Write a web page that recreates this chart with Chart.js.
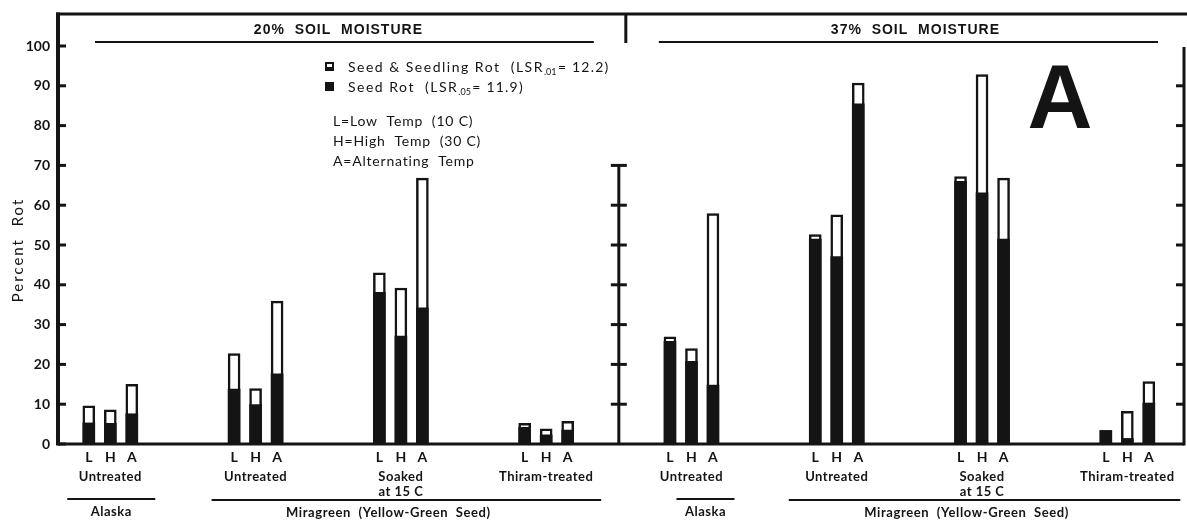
<!DOCTYPE html>
<html>
<head>
<meta charset="utf-8">
<script src="https://cdn.jsdelivr.net/npm/chart.js@4.4.0/dist/chart.umd.min.js"></script>
<style>
  html, body { margin: 0; padding: 0; background: #fff; }
  #wrap { width: 1187px; height: 523px; }
</style>
</head>
<body>
<div id="wrap"><canvas id="rotChart" width="1187" height="523"></canvas></div>
<script>
/* ── Data ─────────────────────────────────────────── */

const panelTitles = ['20%  SOIL  MOISTURE', '37%  SOIL  MOISTURE'];
const groupLabels = [['Untreated'], ['Untreated'], ['Soaked', 'at 15 C'], ['Thiram-treated']];
const tempLabels  = ['L', 'H', 'A'];
const cultivars   = ['Alaska', 'Miragreen  (Yellow-Green  Seed)'];
const yTicks      = [0, 10, 20, 30, 40, 50, 60, 70, 80, 90, 100];

// percent rot, L/H/A for each of the 4 treatment groups
const totalRot20 = [9.6, 8.6, 15.0,  22.7, 13.9, 35.9,  43.0, 39.2, 66.8,  5.2, 3.8, 5.7];
const seedRot20  = [5.3, 5.2, 7.6,   13.8, 9.9, 17.6,   38.1, 27.1, 34.2,  4.2, 2.3, 3.5];
const totalRot37 = [26.9, 24.0, 57.9, 52.6, 57.6, 90.7, 67.2, 92.8, 66.8,  3.4, 8.2, 15.7];
const seedRot37  = [25.8, 20.8, 14.8, 51.5, 47.1, 85.5, 66.0, 63.1, 51.5,  3.4, 1.4, 10.3];

/* ── Layout helpers ───────────────────────────────── */

const BAR_STEP = 0.148;   // spacing of L/H/A inside a group, in group units
const FONT = 'Lato, "Liberation Sans", sans-serif';

const totals = totalRot20.concat(totalRot37);
const seeds  = seedRot20.concat(seedRot37);
const barX   = i => Math.floor(i / 3) + (i % 3 - 1) * BAR_STEP;

// draws text, returns its width
const txt = (ctx, s, x, y, font, align, spacing) => {
  ctx.font = font;
  ctx.textAlign = align || 'center';
  ctx.textBaseline = 'middle';
  ctx.letterSpacing = (spacing || 0) + 'px';
  ctx.fillText(s, x, y);
  const w = ctx.measureText(s).width;
  ctx.letterSpacing = '0px';
  return w;
};

const line = (ctx, x1, y1, x2, y2, w) => {
  ctx.lineWidth = w;
  ctx.beginPath();
  ctx.moveTo(x1, y1);
  ctx.lineTo(x2, y2);
  ctx.stroke();
};

/* ── Frame, axes and annotations ──────────────────── */

const decor = {
  id: 'decor',
  afterDraw(chart) {
    const { ctx, chartArea: a, scales: { x, y } } = chart;
    const y0 = y.getPixelForValue(0);
    const ink = '#141414';
    ctx.save();
    ctx.strokeStyle = ink;
    ctx.fillStyle = ink;
    ctx.lineCap = 'butt';

    // frame
    line(ctx, a.left - 2, 14, 1187, 14, 3);
    line(ctx, a.left, 12.5, a.left, y0 + 1.5, 4);
    line(ctx, a.left, y0, a.right, y0, 3);
    line(ctx, a.right, 47, a.right, y0 + 1.5, 3);

    // left ticks (inside), right ticks (inside)
    yTicks.forEach(t => {
      const py = y.getPixelForValue(t);
      line(ctx, a.left, py, a.left + 8, py, 3);
      if (t > 0 && t < 100) line(ctx, a.right - 8, py, a.right, py, 3);
    });

    // middle axis between the panels (0..70)
    const mx = x.getPixelForValue(3.5);
    line(ctx, mx, y.getPixelForValue(70) - 1, mx, y0, 3);
    yTicks.filter(t => t > 0 && t <= 70).forEach(t => {
      const py = y.getPixelForValue(t);
      line(ctx, mx - 8, py, mx + 8, py, 3);
    });
    line(ctx, mx + 7, 14, mx + 7, 43, 3);

    // panel headers
    const panelSpans = [[a.left, mx], [mx, a.right]];
    const headerInset = [[37, 25], [40, 26]];
    const headerShift = [0, 14];
    panelSpans.forEach(([l, r], p) => {
      txt(ctx, panelTitles[p], (l + r) / 2 + headerShift[p], 30, 'bold 14px "Liberation Sans", sans-serif', 'center', 1);
      line(ctx, l + headerInset[p][0], 42, r - headerInset[p][1], 42, 2);
    });

    // legend
    const lx = 325;
    ctx.fillRect(lx, 62, 9, 9);
    ctx.fillStyle = '#fff';
    ctx.fillRect(lx + 2, 64, 5, 3);
    ctx.fillStyle = ink;
    ctx.fillRect(lx, 82, 9, 9);
    let w = txt(ctx, 'Seed & Seedling Rot  (LSR', 348, 67, '14px ' + FONT, 'left', 1.5);
    txt(ctx, '.01', 348 + w, 72, '9px ' + FONT, 'left');
    txt(ctx, '= 12.2)', 348 + w + 14, 67, '14px ' + FONT, 'left', 1.2);
    w = txt(ctx, 'Seed Rot  (LSR', 348, 87, '14px ' + FONT, 'left', 1.5);
    txt(ctx, '.05', 348 + w, 92, '9px ' + FONT, 'left');
    txt(ctx, '= 11.9)', 348 + w + 14, 87, '14px ' + FONT, 'left', 1.2);

    txt(ctx, 'L=Low  Temp  (10 C)', 333, 121, '14px ' + FONT, 'left', 0.8);
    txt(ctx, 'H=High  Temp  (30 C)', 333, 141, '14px ' + FONT, 'left', 0.8);
    txt(ctx, 'A=Alternating  Temp', 333, 161, '14px ' + FONT, 'left', 0.8);

    // panel letter
    ctx.font = 'bold 90px "Liberation Sans", sans-serif';
    ctx.textAlign = 'center';
    ctx.textBaseline = 'alphabetic';
    ctx.fillText('A', 1060, 128);

    // y title
    ctx.save();
    ctx.translate(18, 250);
    ctx.rotate(-Math.PI / 2);
    txt(ctx, 'Percent  Rot', 0, 0, '15px ' + FONT, 'center', 2);
    ctx.restore();

    // category labels under the bars
    totals.forEach((_, i) => {
      txt(ctx, tempLabels[i % 3], x.getPixelForValue(barX(i)), 457, 'bold 14px ' + FONT, 'center');
    });
    for (let g = 0; g < 8; g++) {
      const gx = x.getPixelForValue(g);
      groupLabels[g % 4].forEach((s, k) => {
        txt(ctx, s, gx, 477 + k * 15, 'bold 13px ' + FONT, 'center', 0.5);
      });
    }

    // cultivar brackets
    const alaskaSpan = [[-43, 45], [-15, 43]];
    const miraSpan   = [[-44, 55], [-48, 53]];
    [0, 4].forEach((g0, p) => {
      const ax = x.getPixelForValue(g0);
      const al = ax + alaskaSpan[p][0], ar = ax + alaskaSpan[p][1];
      line(ctx, al, 499, ar, 499, 2);
      txt(ctx, cultivars[0], (al + ar) / 2, 512, 'bold 13px ' + FONT, 'center', 0.5);
      const ml = x.getPixelForValue(g0 + 1) + miraSpan[p][0];
      const mr = x.getPixelForValue(g0 + 3) + miraSpan[p][1];
      line(ctx, ml, 500, mr, 500, 2);
      txt(ctx, cultivars[1], (ml + mr) / 2 - 18, 513, 'bold 13px ' + FONT, 'center', 0.6);
    });

    ctx.restore();
  }
};

/* ── Chart ────────────────────────────────────────── */

new Chart(document.getElementById('rotChart'), {
  type: 'bar',
  data: {
    datasets: [
      {
        label: 'Seed Rot',
        data: seeds.map((v, i) => ({ x: barX(i), y: v })),
        backgroundColor: '#141414',
        borderWidth: 0,
        barThickness: 12,
        grouped: false,
      },
      {
        label: 'Seed & Seedling Rot',
        data: totals.map((v, i) => ({ x: barX(i), y: v })),
        backgroundColor: '#ffffff',
        borderColor: '#141414',
        borderWidth: 2.5,
        borderSkipped: false,
        barThickness: 12,
        grouped: false,
      },
    ],
  },
  options: {
    responsive: false,
    animation: false,
    layout: { padding: { top: 46, bottom: 79, left: 0, right: 3 } },
    scales: {
      x: {
        type: 'linear',
        min: -0.36,
        max: 7.39,
        offset: false,
        display: false,
      },
      y: {
        min: 0,
        max: 100,
        afterFit: s => { s.width = 58; },
        afterBuildTicks: s => { s.ticks = yTicks.map(v => ({ value: v })); },
        grid: { display: false, drawTicks: false },
        border: { display: false },
        ticks: {
          padding: 8,
          color: '#141414',
          font: { family: 'Lato', size: 14, weight: 'bold' },
        },
      },
    },
    plugins: {
      legend:  { display: false },
      tooltip: { enabled: false },
    },
  },
  plugins: [decor],
});
</script>
</body>
</html>
